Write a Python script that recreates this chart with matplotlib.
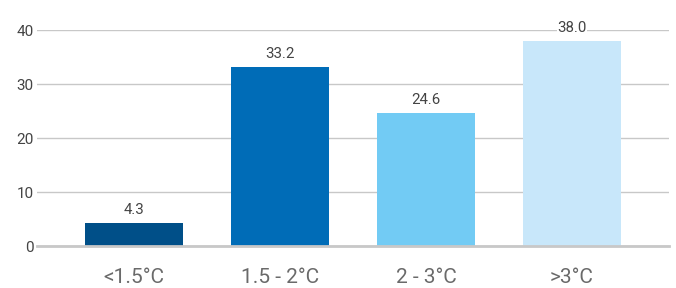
import matplotlib.pyplot as plt

# Data
categories = ['<1.5°C', '1.5 - 2°C', '2 - 3°C', '>3°C']
values = [4.3, 33.2, 24.6, 38.0]
colors = ['#004f88', '#006cb7', '#72cbf4', '#c8e7fa']

plt.rcParams['font.family'] = ['Roboto', 'DejaVu Sans']

fig = plt.figure(figsize=(6.76, 2.88), dpi=100)
ax = fig.add_axes([37 / 676, 1 - 246 / 288, 632 / 676, 216 / 288])

x = range(len(categories))
bars = ax.bar(x, values, width=0.67, color=colors, zorder=2)

for i, v in enumerate(values):
    ax.text(i, v + 1.1, f'{v:.1f}', ha='center', va='bottom', fontsize=10.8,
            color='#444444', zorder=3, clip_on=False,
            bbox=dict(facecolor='white', edgecolor='none', pad=0.5))

ax.set_xlim(-0.664, 3.664)
ax.set_ylim(0, 40)
ax.set_yticks([0, 10, 20, 30, 40])
ax.set_xticks(list(x))
ax.set_xticklabels(categories, fontsize=15, color='#6a6a6a')
ax.tick_params(axis='y', labelsize=11, labelcolor='#444444', length=0, pad=2.5)
ax.tick_params(axis='x', length=0, pad=16)

ax.grid(axis='y', color='#c8c8c8', linewidth=1, zorder=0)
ax.set_axisbelow(True)
for s in ['top', 'right', 'left']:
    ax.spines[s].set_visible(False)
ax.spines['bottom'].set_color('#c8c8c8')
ax.spines['bottom'].set_linewidth(2)
ax.spines['bottom'].set_zorder(3)

fig.savefig('out.png', dpi=100)
